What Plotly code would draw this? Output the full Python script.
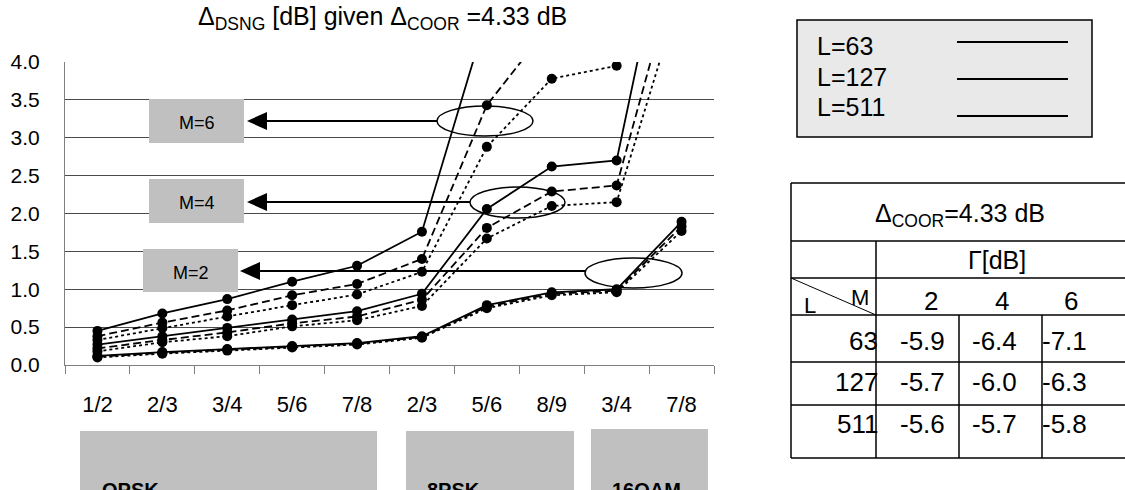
import plotly.graph_objects as go

# ---------------- data ----------------
categories = ["1/2", "2/3", "3/4", "5/6", "7/8", "2/3", "5/6", "8/9", "3/4", "7/8"]
groups = ["QPSK", "8PSK", "16QAM"]

M6_L63 = [0.45, 0.68, 0.87, 1.10, 1.31, 1.76, 4.61, 5.40, 5.80, 8.00]
M6_L127 = [0.38, 0.56, 0.72, 0.92, 1.07, 1.40, 3.43, 4.52, 5.00, 7.00]
M6_L511 = [0.33, 0.49, 0.64, 0.79, 0.93, 1.23, 2.88, 3.78, 3.95, 6.50]
M4_L63 = [0.27, 0.38, 0.49, 0.60, 0.71, 0.94, 2.06, 2.62, 2.70, 6.76]
M4_L127 = [0.22, 0.33, 0.43, 0.55, 0.64, 0.86, 1.81, 2.29, 2.37, 5.49]
M4_L511 = [0.18, 0.30, 0.38, 0.51, 0.59, 0.78, 1.67, 2.10, 2.15, 4.95]
M2_L63 = [0.12, 0.17, 0.21, 0.25, 0.29, 0.38, 0.79, 0.96, 1.00, 1.89]
M2_L127 = [0.11, 0.16, 0.20, 0.24, 0.28, 0.37, 0.77, 0.94, 0.98, 1.83]
M2_L511 = [0.10, 0.15, 0.19, 0.23, 0.27, 0.36, 0.75, 0.92, 0.96, 1.77]

legend_labels = ["L=63", "L=127", "L=511"]
table_M = ["2", "4", "6"]
table_L = ["63", "127", "511"]
table_gamma = [["-5.9", "-6.4", "-7.1"],
               ["-5.7", "-6.0", "-6.3"],
               ["-5.6", "-5.7", "-5.8"]]

# ---------------- figure ----------------
W, H = 1125, 490
L, R, T, B = 65, 714, 62, 365   # plot area in pixels
FONT = "Liberation Sans, Arial, sans-serif"


def P(x, y):
    return (x - L) / (R - L), (B - y) / (B - T)


x = list(range(len(categories)))
series = [
    (M6_L63, "solid"), (M6_L127, "8px,4px"), (M6_L511, "3px,3px"),
    (M4_L63, "solid"), (M4_L127, "8px,4px"), (M4_L511, "3px,3px"),
    (M2_L63, "solid"), (M2_L127, "8px,4px"), (M2_L511, "3px,3px"),
]

fig = go.Figure()
for vals, dash in series:
    fig.add_trace(go.Scatter(
        x=x, y=vals, mode="lines+markers",
        line=dict(color="black", width=1.8, dash=dash),
        marker=dict(color="black", size=10),
        cliponaxis=True, showlegend=False, hoverinfo="skip"))

shapes = []
annotations = []


def rect(x0, y0, x1, y1, fill=None, lw=0, lc="black"):
    a, b = P(x0, y1)
    c, d = P(x1, y0)
    shapes.append(dict(type="rect", xref="paper", yref="paper", x0=a, y0=b, x1=c, y1=d,
                       fillcolor=fill if fill else "rgba(0,0,0,0)",
                       line=dict(width=lw, color=lc), layer="above"))


def line(x0, y0, x1, y1, lw=1.5):
    a, b = P(x0, y0)
    c, d = P(x1, y1)
    shapes.append(dict(type="line", xref="paper", yref="paper", x0=a, y0=b, x1=c, y1=d,
                       line=dict(width=lw, color="black"), layer="above"))


def ellipse(x0, y0, x1, y1):
    a, b = P(x0, y1)
    c, d = P(x1, y0)
    shapes.append(dict(type="circle", xref="paper", yref="paper", x0=a, y0=b, x1=c, y1=d,
                       line=dict(width=1.5, color="black"), layer="above"))


def tri(tipx, y, length=20, half=9):
    p1 = P(tipx, y)
    p2 = P(tipx + length, y - half)
    p3 = P(tipx + length, y + half)
    path = f"M {p1[0]},{p1[1]} L {p2[0]},{p2[1]} L {p3[0]},{p3[1]} Z"
    shapes.append(dict(type="path", xref="paper", yref="paper", path=path,
                       fillcolor="black", line=dict(width=0), layer="above"))


def text(s, x0, y0, size, xanchor="center", bold=False):
    a, b = P(x0, y0)
    annotations.append(dict(text=f"<b>{s}</b>" if bold else s, x=a, y=b, xref="paper", yref="paper",
                            xanchor=xanchor, yanchor="middle", showarrow=False,
                            font=dict(size=size, color="black", family=FONT)))


# title
text("Δ<sub>DSNG</sub> [dB] given Δ<sub>COOR</sub> =4.33 dB", 382, 18, 25)

# M labels, arrows, ellipses
for lab, (bx0, by0, bx1, by1), tipx, ay, (ex0, ey0, ex1, ey1) in [
    ("M=6", (149, 99, 244, 143), 247, 121, (437, 106, 533, 136)),
    ("M=4", (149, 179, 244, 223), 247, 202, (470, 187, 565, 218)),
    ("M=2", (143, 249, 238, 292), 240, 271, (585, 258, 682, 288)),
]:
    rect(bx0, by0, bx1, by1, fill="#c0c0c0")
    text(lab, (bx0 + bx1) / 2, (by0 + by1) / 2 + 2, 18)
    line(tipx + 18, ay, ex0, ay, lw=2)
    tri(tipx, ay)
    ellipse(ex0, ey0, ex1, ey1)

# bottom group boxes
for g, (bx0, by0, bx1), tx in zip(groups, [(80, 431, 377), (406, 431, 574), (591, 429, 708)], [100, 425, 610]):
    rect(bx0, by0, bx1, 495, fill="#c0c0c0")
    text(g, tx, 490, 20, xanchor="left", bold=True)

# legend box
rect(797, 20, 1092, 137, fill="#e9e9e9", lw=1.5)
for lab, ty, ly in zip(legend_labels, [46, 77, 107], [42, 79, 116]):
    text(lab, 815, ty, 25, xanchor="left")
    line(957, ly, 1068, ly, lw=2)

# table
TX0, TX1 = 791, 1126
for yy in [183, 241, 278, 315, 362, 405, 458]:
    line(TX0, yy, TX1, yy, lw=1.5)
line(TX0, 183, TX0, 458, lw=1.5)
line(TX1, 183, TX1, 458, lw=1.5)
line(876, 241, 876, 458, lw=1.5)
line(959, 315, 959, 458, lw=1.5)
line(1042, 315, 1042, 458, lw=1.5)
line(TX0, 278, 876, 315, lw=1)
text("Δ<sub>COOR</sub>=4.33 dB", 960, 215, 25)
text("Γ[dB]", 997, 260, 25)
text("M", 860, 297, 22)
text("L", 810, 305, 22)
for m, cx in zip(table_M, [931, 1002, 1071]):
    text(m, cx, 301, 26)
for lab, row, ty in zip(table_L, table_gamma, [341, 382, 424]):
    text(lab, 880, ty, 26, xanchor="right")
    for v, cx in zip(row, [898, 970, 1040]):
        text(v, cx, ty, 26, xanchor="left")

fig.update_layout(
    width=W, height=H,
    margin=dict(l=L, r=W - R, t=T, b=H - B, pad=0),
    paper_bgcolor="white", plot_bgcolor="white",
    font=dict(family=FONT, color="black"),
    shapes=shapes, annotations=annotations,
    xaxis=dict(range=[-0.5, len(categories) - 0.5], tickmode="array", tickvals=x, ticktext=categories,
               ticks="", showgrid=False, zeroline=False, showline=True, linecolor="#808080", linewidth=1,
               tickfont=dict(size=22, family=FONT), ticklabelstandoff=20,
               minor=dict(tickmode="array", tickvals=[i - 0.5 for i in range(len(categories) + 1)],
                          ticks="outside", ticklen=8, tickcolor="#808080", tickwidth=1, showgrid=False)),
    yaxis=dict(range=[0, 4], tickmode="linear", tick0=0, dtick=0.5, tickformat=".1f",
               ticks="", showgrid=True, gridcolor="#4a4a4a", gridwidth=1, zeroline=False,
               showline=True, linecolor="#808080", linewidth=1,
               tickfont=dict(size=21, family=FONT), ticklabelstandoff=20),
)

fig.write_html("out.html")
